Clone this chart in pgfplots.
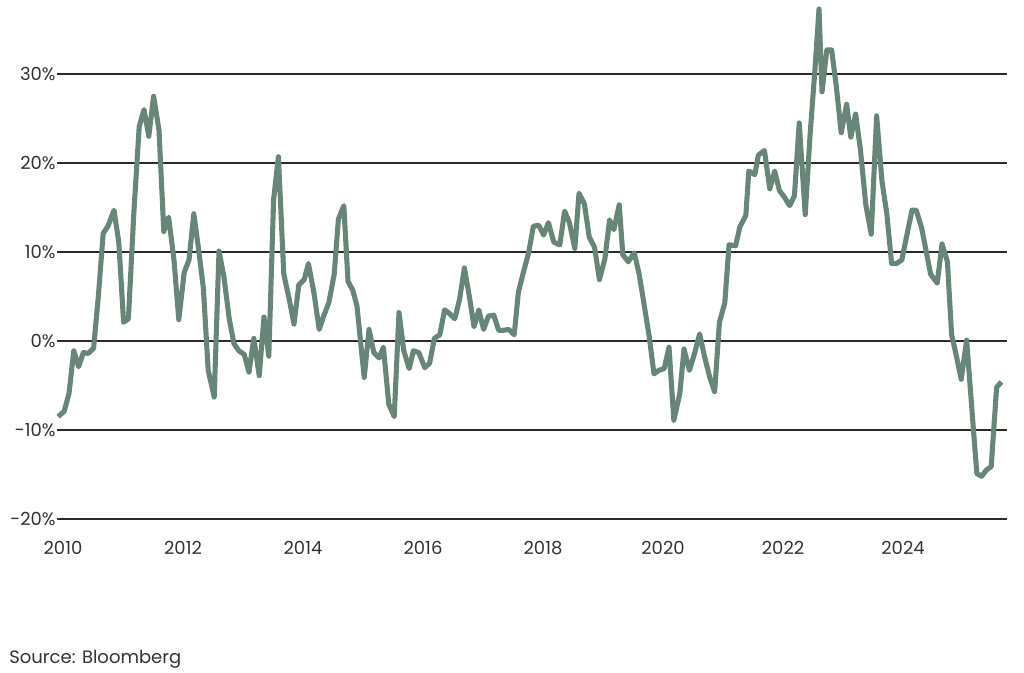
\documentclass[border=0pt]{standalone}
\usepackage{fontspec}
\setmainfont{Poppins}
\usepackage{pgfplots}
\pgfplotsset{compat=1.18}
\definecolor{linegreen}{HTML}{678677}
\definecolor{gridgray}{HTML}{2B2B2B}

\pgfplotstableread{
year value
2009.92 -8.5
2010.02 -7.9
2010.10 -5.9
2010.18 -1.1
2010.26 -2.9
2010.34 -1.3
2010.42 -1.4
2010.51 -0.8
2010.59 5.1
2010.67 12.1
2010.75 12.9
2010.85 14.7
2010.93 11.1
2011.01 2.1
2011.09 2.5
2011.18 14.3
2011.27 24.1
2011.35 26.0
2011.43 23.0
2011.51 27.5
2011.60 23.7
2011.68 12.3
2011.76 13.9
2011.85 9.1
2011.93 2.4
2012.02 7.7
2012.10 9.1
2012.18 14.3
2012.26 10.3
2012.34 5.9
2012.42 -3.3
2012.52 -6.3
2012.60 10.1
2012.68 7.3
2012.77 2.5
2012.85 -0.3
2012.93 -1.1
2013.02 -1.5
2013.10 -3.5
2013.18 0.3
2013.27 -3.9
2013.35 2.7
2013.43 -1.7
2013.51 15.9
2013.59 20.7
2013.68 7.5
2013.77 4.7
2013.85 1.9
2013.93 6.3
2014.02 6.9
2014.09 8.7
2014.18 5.5
2014.27 1.3
2014.35 2.9
2014.43 4.3
2014.52 7.5
2014.59 13.7
2014.68 15.2
2014.75 6.7
2014.83 5.7
2014.90 3.9
2015.02 -4.1
2015.10 1.3
2015.18 -1.3
2015.27 -1.9
2015.34 -0.7
2015.43 -7.1
2015.52 -8.5
2015.60 3.2
2015.68 -1.1
2015.77 -3.1
2015.84 -1.1
2015.93 -1.3
2016.03 -3.0
2016.11 -2.5
2016.19 0.3
2016.28 0.7
2016.36 3.5
2016.44 3.1
2016.53 2.5
2016.61 4.7
2016.69 8.2
2016.78 4.7
2016.85 1.6
2016.93 3.5
2017.01 1.3
2017.09 2.8
2017.18 2.9
2017.26 1.2
2017.34 1.2
2017.43 1.3
2017.52 0.7
2017.59 5.5
2017.68 7.9
2017.76 9.9
2017.84 12.9
2017.93 13.0
2018.01 11.9
2018.09 13.3
2018.18 11.1
2018.28 10.8
2018.36 14.6
2018.44 13.3
2018.53 10.4
2018.60 16.6
2018.69 15.4
2018.77 11.7
2018.86 10.5
2018.94 6.9
2019.03 9.2
2019.11 13.6
2019.18 12.5
2019.27 15.3
2019.33 9.7
2019.42 8.9
2019.52 9.9
2019.60 7.6
2019.68 4.3
2019.77 0.5
2019.85 -3.7
2019.93 -3.3
2020.02 -3.1
2020.10 -0.7
2020.18 -8.9
2020.28 -5.9
2020.35 -0.9
2020.44 -3.3
2020.53 -1.3
2020.61 0.8
2020.69 -1.7
2020.78 -4.1
2020.86 -5.7
2020.94 2.1
2021.03 4.3
2021.10 10.8
2021.21 10.7
2021.28 12.8
2021.38 14.1
2021.43 19.1
2021.53 18.7
2021.59 20.9
2021.69 21.4
2021.78 17.1
2021.86 19.1
2021.94 16.9
2022.03 16.1
2022.11 15.2
2022.19 16.3
2022.27 24.5
2022.37 14.2
2022.45 23.1
2022.53 30.3
2022.60 37.3
2022.65 28.0
2022.73 32.7
2022.81 32.7
2022.89 28.5
2022.97 23.4
2023.06 26.6
2023.13 22.9
2023.21 25.5
2023.29 21.5
2023.38 15.3
2023.47 12.0
2023.56 25.3
2023.65 17.9
2023.73 14.3
2023.81 8.7
2023.89 8.7
2023.98 9.1
2024.07 12.1
2024.15 14.7
2024.22 14.7
2024.31 12.7
2024.38 10.3
2024.46 7.5
2024.57 6.5
2024.65 10.9
2024.74 8.9
2024.81 0.7
2024.89 -1.7
2024.97 -4.3
2025.06 0.1
2025.13 -6.1
2025.23 -14.9
2025.31 -15.2
2025.39 -14.5
2025.47 -14.1
2025.56 -5.2
2025.64 -4.6
}\datatable

\begin{document}
\begin{tikzpicture}
% fixed canvas: 1024 x 672 px at 0.75pt per px
\path (0,0) rectangle (768pt,504pt);
\begin{axis}[
    at={(42.75pt,114.75pt)},
    anchor=south west,
    scale only axis,
    width=712.5pt,
    height=387.15pt,
    xmin=2009.9, xmax=2025.733,
    ymin=-20, ymax=38,
    clip=false,
    axis line style={draw=none},
    major tick length=0pt,
    xtick={2010,2012,2014,2016,2018,2020,2022,2024},
    xticklabels={2010,2012,2014,2016,2018,2020,2022,2024},
    ytick={-20,-10,0,10,20,30},
    yticklabels={-20\%,-10\%,0\%,10\%,20\%,30\%},
    ymajorgrids,
    grid style={gridgray, line width=1.1pt},
    tick label style={font=\fontsize{13.5}{15}\selectfont, text=black!80},
    xticklabel style={yshift=-13pt},
    yticklabel style={xshift=2.5pt},
]
\addplot[linegreen, line width=3.8pt, line join=round] table[x=year, y=value] {\datatable};
\end{axis}
\node[anchor=base west, font=\fontsize{13.5}{16}\selectfont, text=black!80] at (3.5pt,6.5pt) {Source: Bloomberg};
\end{tikzpicture}
\end{document}
